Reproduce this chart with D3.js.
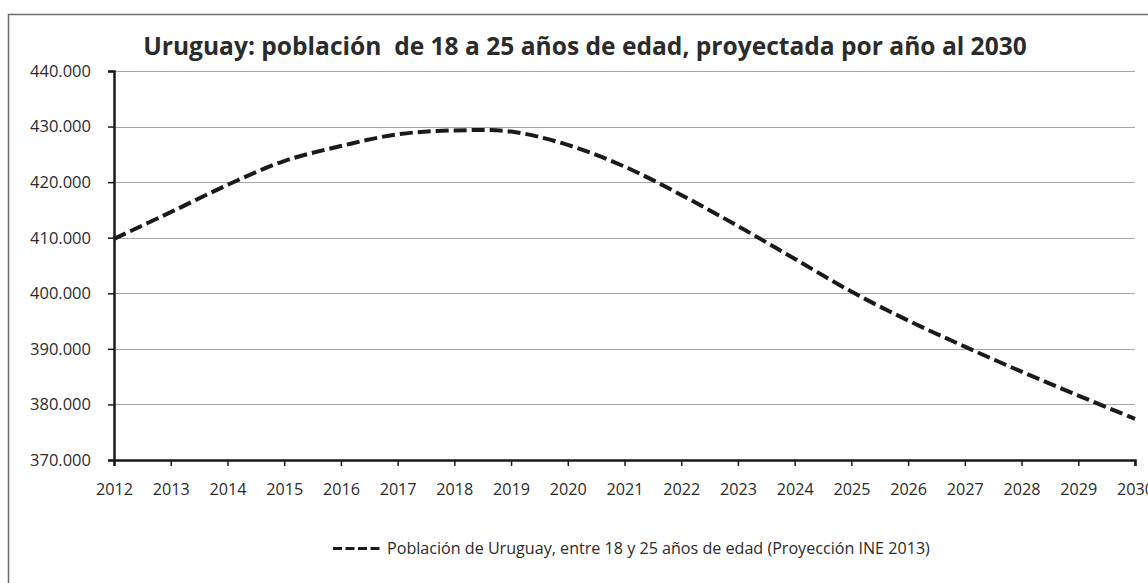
<!DOCTYPE html>
<html>
<head>
<meta charset="utf-8">
<script src="https://cdn.jsdelivr.net/npm/d3@7"></script>
<style>
  body { margin: 0; background: #fff; }
  text { font-family: "Open Sans", "Noto Sans", sans-serif; fill: #2b2b2b; }
</style>
</head>
<body>
<script>
// data
var years = [2012, 2013, 2014, 2015, 2016, 2017, 2018, 2019, 2020, 2021,
             2022, 2023, 2024, 2025, 2026, 2027, 2028, 2029, 2030];
var poblacion = [409800, 414600, 419500, 423800, 426500, 428600, 429300, 429100, 426700, 422800,
                 417700, 412100, 406200, 400300, 395100, 390400, 385900, 381600, 377400];
var yTicks = [370000, 380000, 390000, 400000, 410000, 420000, 430000, 440000];
var titulo = "Uruguay: población  de 18 a 25 años de edad, proyectada por año al 2030";
var leyenda = "Población de Uruguay, entre 18 y 25 años de edad (Proyección INE 2013)";

var svgWidth = 1148;
var svgHeight = 583;
var margin = { top: 71, right: 13, bottom: 123, left: 114 };
var width = svgWidth - margin.left - margin.right;
var height = svgHeight - margin.top - margin.bottom;

var svg = d3.select("body")
  .append("svg")
  .attr("width", svgWidth)
  .attr("height", svgHeight);

// shrink/grow a text's font so it has roughly the width seen in the picture
function fitWidth(sel, target) {
  var size = parseFloat(sel.style("font-size"));
  var len = sel.node().getComputedTextLength();
  sel.style("font-size", (size * target / len).toFixed(2) + "px");
}

// outer frame
svg.append("rect")
  .attr("x", 8.5)
  .attr("y", 14.5)
  .attr("width", 1160)
  .attr("height", 600)
  .attr("fill", "none")
  .attr("stroke", "#6e6e6e")
  .attr("stroke-width", 1.5);

var title = svg.append("text")
  .attr("x", 585)
  .attr("y", 55)
  .attr("text-anchor", "middle")
  .style("font-size", "22px")
  .style("font-weight", "bold")
  .style("white-space", "pre")
  .text(titulo);
fitWidth(title, 884);

var chartGroup = svg.append("g")
  .attr("transform", `translate(${margin.left}, ${margin.top})`);

var x = d3.scaleLinear()
  .domain([2012, 2030])
  .range([0, width]);

var y = d3.scaleLinear()
  .domain([370000, 440000])
  .range([height, 0]);

// gridlines
chartGroup.append("g")
  .selectAll("line")
  .data(yTicks.slice(1))
  .enter()
  .append("line")
  .attr("x1", 0)
  .attr("x2", width)
  .attr("y1", d => Math.round(y(d)) + 0.5)
  .attr("y2", d => Math.round(y(d)) + 0.5)
  .attr("stroke", "#a6a6a6")
  .attr("stroke-width", 1);

var fmt = d => d3.format(",")(d).replace(/,/g, ".");

var yAxis = chartGroup.append("g")
  .call(d3.axisLeft(y).tickValues(yTicks).tickSize(6).tickPadding(17).tickFormat(fmt));
yAxis.select(".domain").attr("stroke", "#1a1a1a").attr("stroke-width", 2.5);
yAxis.selectAll(".tick line").attr("stroke", "#1a1a1a").attr("stroke-width", 1.5);
yAxis.selectAll(".tick text")
  .style("font-size", "15px")
  .attr("fill", "#2b2b2b");
fitWidth(yAxis.select(".tick text"), 61);
yAxis.selectAll(".tick text").style("font-size", yAxis.select(".tick text").style("font-size"));

var xAxis = chartGroup.append("g")
  .attr("transform", `translate(0, ${height})`)
  .call(d3.axisBottom(x).tickValues(years).tickSize(6).tickPadding(18).tickFormat(d3.format("d")));
xAxis.select(".domain").attr("stroke", "#1a1a1a").attr("stroke-width", 2.5);
xAxis.selectAll(".tick line").attr("stroke", "#1a1a1a").attr("stroke-width", 1.5);
xAxis.selectAll(".tick text")
  .style("font-size", "15px")
  .attr("fill", "#2b2b2b");
fitWidth(xAxis.select(".tick text"), 37);
xAxis.selectAll(".tick text").style("font-size", xAxis.select(".tick text").style("font-size"));

var line = d3.line()
  .x((d, i) => x(years[i]))
  .y(d => y(d))
  .curve(d3.curveCatmullRom.alpha(0.5));

chartGroup.append("path")
  .datum(poblacion)
  .attr("d", line)
  .attr("fill", "none")
  .attr("stroke", "#1a1a1a")
  .attr("stroke-width", 4)
  .attr("stroke-dasharray", "13,5");

// legend
var legend = svg.append("g")
  .attr("transform", "translate(333, 548.5)");

legend.append("line")
  .attr("x1", 0)
  .attr("x2", 50)
  .attr("stroke", "#1a1a1a")
  .attr("stroke-width", 3)
  .attr("stroke-dasharray", "9,3.5");

var legText = legend.append("text")
  .attr("x", 54)
  .attr("y", 5.5)
  .style("font-size", "14px")
  .text(leyenda);
fitWidth(legText, 543);
</script>
</body>
</html>
